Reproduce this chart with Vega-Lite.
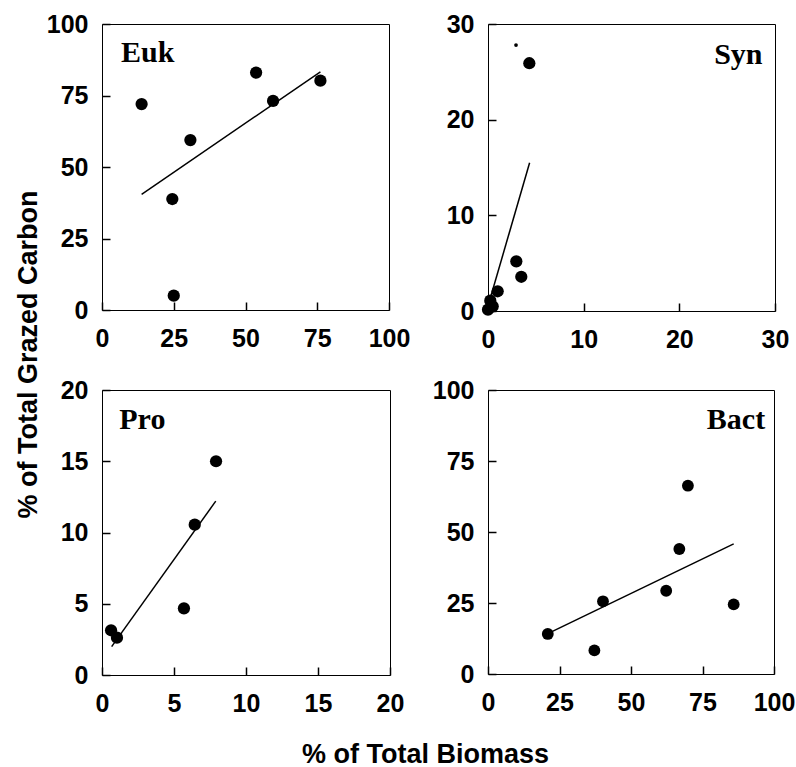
{
  "$schema": "https://vega.github.io/schema/vega-lite/v6.json",
  "background": "white",
  "padding": {"left": 13, "top": 11, "right": 5, "bottom": 0},
  "datasets": {
    "pts": [
      {"panel": "Euk", "x": 13.8, "y": 72.0},
      {"panel": "Euk", "x": 30.8, "y": 59.4},
      {"panel": "Euk", "x": 24.5, "y": 38.8},
      {"panel": "Euk", "x": 25.0, "y": 5.0},
      {"panel": "Euk", "x": 53.7, "y": 83.0},
      {"panel": "Euk", "x": 59.6, "y": 73.1},
      {"panel": "Euk", "x": 76.1, "y": 80.2},
      {"panel": "Syn", "x": 4.32, "y": 25.9},
      {"panel": "Syn", "x": 2.96, "y": 5.19},
      {"panel": "Syn", "x": 3.48, "y": 3.58},
      {"panel": "Syn", "x": 1.01, "y": 2.06},
      {"panel": "Syn", "x": 0.24, "y": 1.08},
      {"panel": "Syn", "x": 0.0, "y": 0.14},
      {"panel": "Syn", "x": 0.49, "y": 0.49},
      {"panel": "Pro", "x": 0.63, "y": 3.14},
      {"panel": "Pro", "x": 1.04, "y": 2.62},
      {"panel": "Pro", "x": 5.69, "y": 4.68},
      {"panel": "Pro", "x": 6.44, "y": 10.55},
      {"panel": "Pro", "x": 7.92, "y": 15.0},
      {"panel": "Bact", "x": 20.9, "y": 14.1},
      {"panel": "Bact", "x": 37.2, "y": 8.3},
      {"panel": "Bact", "x": 40.2, "y": 25.6},
      {"panel": "Bact", "x": 62.3, "y": 29.3},
      {"panel": "Bact", "x": 66.9, "y": 44.0},
      {"panel": "Bact", "x": 69.9, "y": 66.3},
      {"panel": "Bact", "x": 85.9, "y": 24.5}
    ],
    "specks": [
      {"panel": "Syn", "x": 2.93, "y": 27.8}
    ],
    "fits": [
      {"panel": "Euk", "x": 13.8, "y": 40.4},
      {"panel": "Euk", "x": 76.1, "y": 83.3},
      {"panel": "Syn", "x": 0.2, "y": 1.2},
      {"panel": "Syn", "x": 4.35, "y": 15.5},
      {"panel": "Pro", "x": 0.67, "y": 1.99},
      {"panel": "Pro", "x": 7.9, "y": 12.2},
      {"panel": "Bact", "x": 20.9, "y": 14.2},
      {"panel": "Bact", "x": 85.9, "y": 45.8}
    ],
    "labels": [
      {"panel": "Euk", "x": 6.6, "y": 86.6, "label": "Euk"},
      {"panel": "Syn", "x": 28.7, "y": 25.8, "label": "Syn"},
      {"panel": "Pro", "x": 1.2, "y": 17.24, "label": "Pro"},
      {"panel": "Bact", "x": 96.9, "y": 86.3, "label": "Bact"}
    ]
  },
  "columns": 2,
  "bounds": "flush",
  "spacing": {"row": 79, "column": 98},
  "concat": [
    {
      "width": 287, "height": 286,
      "encoding": {
        "x": {"field": "x", "type": "quantitative", "scale": {"domain": [0, 100], "nice": false}, "axis": {"values": [0, 25, 50, 75, 100], "title": null}},
        "y": {"field": "y", "type": "quantitative", "scale": {"domain": [0, 100], "nice": false}, "axis": {"values": [0, 25, 50, 75, 100], "title": "% of Total Grazed Carbon", "titleX": -74, "titleY": 330, "titleAngle": -90, "titleAlign": "center", "titleBaseline": "alphabetic"}}
      },
      "layer": [
        {"data": {"name": "fits"}, "transform": [{"filter": "datum.panel === 'Euk'"}], "mark": {"type": "line", "color": "black", "strokeWidth": 1.5}},
        {"data": {"name": "pts"}, "transform": [{"filter": "datum.panel === 'Euk'"}], "mark": {"type": "circle", "size": 150, "color": "black", "opacity": 1}},
        {"data": {"name": "labels"}, "transform": [{"filter": "datum.panel === 'Euk'"}], "mark": {"type": "text", "font": "Liberation Serif", "fontWeight": "bold", "fontSize": 30, "align": "left", "baseline": "alphabetic", "color": "black"}, "encoding": {"text": {"field": "label"}}}
      ]
    },
    {
      "width": 287, "height": 287,
      "encoding": {
        "x": {"field": "x", "type": "quantitative", "scale": {"domain": [0, 30], "nice": false}, "axis": {"values": [0, 10, 20, 30], "title": null}},
        "y": {"field": "y", "type": "quantitative", "scale": {"domain": [0, 30], "nice": false}, "axis": {"values": [0, 10, 20, 30], "title": null}}
      },
      "layer": [
        {"data": {"name": "fits"}, "transform": [{"filter": "datum.panel === 'Syn'"}], "mark": {"type": "line", "color": "black", "strokeWidth": 1.5}},
        {"data": {"name": "pts"}, "transform": [{"filter": "datum.panel === 'Syn'"}], "mark": {"type": "circle", "size": 150, "color": "black", "opacity": 1}},
        {"data": {"name": "specks"}, "mark": {"type": "circle", "size": 14, "color": "black", "opacity": 1}},
        {"data": {"name": "labels"}, "transform": [{"filter": "datum.panel === 'Syn'"}], "mark": {"type": "text", "font": "Liberation Serif", "fontWeight": "bold", "fontSize": 30, "align": "right", "baseline": "alphabetic", "color": "black"}, "encoding": {"text": {"field": "label"}}}
      ]
    },
    {
      "width": 288, "height": 285,
      "encoding": {
        "x": {"field": "x", "type": "quantitative", "scale": {"domain": [0, 20], "nice": false}, "axis": {"values": [0, 5, 10, 15, 20], "title": "% of Total Biomass", "titleX": 323, "titleY": 95, "titleAlign": "center", "titleBaseline": "alphabetic", "titleAngle": 0}},
        "y": {"field": "y", "type": "quantitative", "scale": {"domain": [0, 20], "nice": false}, "axis": {"values": [0, 5, 10, 15, 20], "title": null}}
      },
      "layer": [
        {"data": {"name": "fits"}, "transform": [{"filter": "datum.panel === 'Pro'"}], "mark": {"type": "line", "color": "black", "strokeWidth": 1.5}},
        {"data": {"name": "pts"}, "transform": [{"filter": "datum.panel === 'Pro'"}], "mark": {"type": "circle", "size": 150, "color": "black", "opacity": 1}},
        {"data": {"name": "labels"}, "transform": [{"filter": "datum.panel === 'Pro'"}], "mark": {"type": "text", "font": "Liberation Serif", "fontWeight": "bold", "fontSize": 30, "align": "left", "baseline": "alphabetic", "color": "black"}, "encoding": {"text": {"field": "label"}}}
      ]
    },
    {
      "width": 286, "height": 284,
      "encoding": {
        "x": {"field": "x", "type": "quantitative", "scale": {"domain": [0, 100], "nice": false}, "axis": {"values": [0, 25, 50, 75, 100], "title": null}},
        "y": {"field": "y", "type": "quantitative", "scale": {"domain": [0, 100], "nice": false}, "axis": {"values": [0, 25, 50, 75, 100], "title": null}}
      },
      "layer": [
        {"data": {"name": "fits"}, "transform": [{"filter": "datum.panel === 'Bact'"}], "mark": {"type": "line", "color": "black", "strokeWidth": 1.5}},
        {"data": {"name": "pts"}, "transform": [{"filter": "datum.panel === 'Bact'"}], "mark": {"type": "circle", "size": 140, "color": "black", "opacity": 1}},
        {"data": {"name": "labels"}, "transform": [{"filter": "datum.panel === 'Bact'"}], "mark": {"type": "text", "font": "Liberation Serif", "fontWeight": "bold", "fontSize": 30, "align": "right", "baseline": "alphabetic", "color": "black"}, "encoding": {"text": {"field": "label"}}}
      ]
    }
  ],
  "config": {
    "view": {"stroke": "black", "strokeWidth": 1},
    "axis": {
      "grid": false,
      "domain": false,
      "ticks": true,
      "offset": -8,
      "tickSize": 8,
      "tickColor": "black",
      "tickOpacity": 1,
      "tickWidth": 1.5,
      "zindex": 1,
      "labelFont": "Liberation Sans",
      "labelFontWeight": "bold",
      "labelFontSize": 25,
      "labelColor": "black",
      "labelFlush": false,
      "labelOverlap": false,
      "titleFont": "Liberation Sans",
      "titleFontWeight": "bold",
      "titleFontSize": 27,
      "titleColor": "black"
    },
    "axisX": {"labelPadding": 16},
    "axisY": {"labelPadding": 14}
  }
}
